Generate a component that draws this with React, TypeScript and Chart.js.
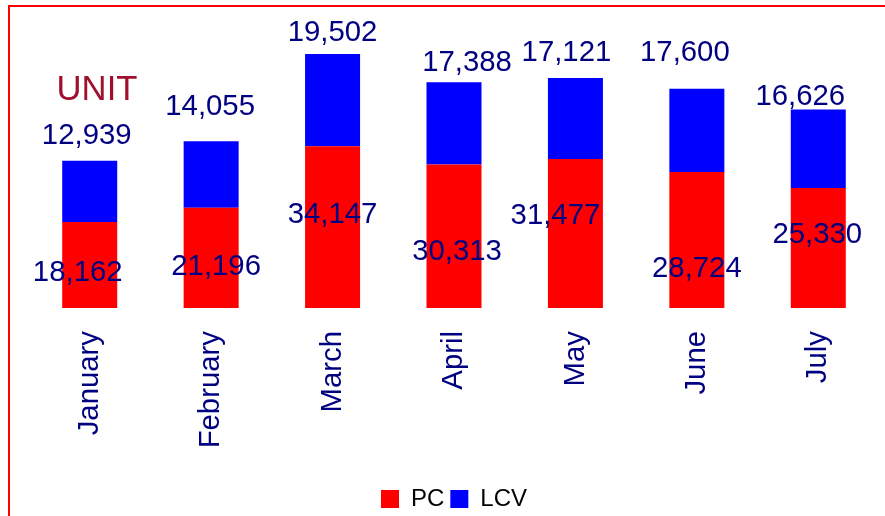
import React, { useEffect, useRef } from "react";
import { Chart, registerables } from "chart.js";

Chart.register(...registerables);

const months = ["January", "February", "March", "April", "May", "June", "July"];
const pcUnits = [18162, 21196, 34147, 30313, 31477, 28724, 25330];
const lcvUnits = [12939, 14055, 19502, 17388, 17121, 17600, 16626];
const unitLabel = "UNIT";
const seriesNames = ["PC", "LCV"];

// small label nudges (px) relative to the bar-anchored default placement
const pcLabelShift = [[-12, 8], [5, 9], [0, -12], [3, 16], [-20, -18], [0, 29], [-1, -13]];
const lcvLabelShift = [[-3, 0], [-1, -9], [0, 3.5], [13, 6], [-9, 0], [-12, -10.5], [-18, 13]];

const FONT = "'Liberation Sans', Arial, Helvetica, sans-serif";
const NAVY = "#000080";

const labelPlugin = {
  id: "valueLabels",
  afterDatasetsDraw(chart: any) {
    const ctx = chart.ctx;
    const fmt = new Intl.NumberFormat("en-US");
    ctx.save();
    ctx.font = `29.33px ${FONT}`;
    ctx.fillStyle = NAVY;
    ctx.textAlign = "center";
    ctx.textBaseline = "middle";
    const pcMeta = chart.getDatasetMeta(0);
    const lcvMeta = chart.getDatasetMeta(1);
    pcMeta.data.forEach((bar: any, i: number) => {
      const { x, y, base } = bar.getProps(["x", "y", "base"], true);
      const [dx, dy] = pcLabelShift[i];
      ctx.fillText(fmt.format(pcUnits[i]), x + dx, (y + base) / 2 + dy);
    });
    lcvMeta.data.forEach((bar: any, i: number) => {
      const { x, y } = bar.getProps(["x", "y"], true);
      const [dx, dy] = lcvLabelShift[i];
      ctx.fillText(fmt.format(lcvUnits[i]), x + dx, y - 25 + dy);
    });
    ctx.font = `34.67px ${FONT}`;
    ctx.fillStyle = "#A0102E";
    ctx.fillText(unitLabel, 97, 90.5);
    ctx.restore();
  },
};

export default function App() {
  const canvasRef = useRef<HTMLCanvasElement | null>(null);

  useEffect(() => {
    if (!canvasRef.current) return;
    Chart.defaults.font.family = FONT;
    const chart = new Chart(canvasRef.current, {
      type: "bar",
      data: {
        labels: months,
        datasets: [
          {
            label: seriesNames[0],
            data: pcUnits,
            backgroundColor: "#FF0000",
            barPercentage: 0.453,
            categoryPercentage: 1,
          },
          {
            label: seriesNames[1],
            data: lcvUnits,
            backgroundColor: "#0000FF",
            barPercentage: 0.453,
            categoryPercentage: 1,
          },
        ],
      },
      options: {
        animation: false,
        responsive: true,
        maintainAspectRatio: false,
        layout: { padding: { left: 29, right: 6, top: 24, bottom: -5 } },
        scales: {
          x: {
            stacked: true,
            grid: { display: false, drawTicks: false },
            border: { display: false },
            ticks: {
              color: NAVY,
              font: { size: 29.33 },
              minRotation: 90,
              maxRotation: 90,
              padding: 23,
              autoSkip: false,
            },
            afterFit: (s: any) => {
              s.height = 173;
            },
          },
          y: { stacked: true, display: false, min: 0, max: 60000 },
        },
        plugins: {
          legend: {
            position: "bottom",
            labels: {
              boxWidth: 18,
              boxHeight: 18,
              padding: 6,
              color: "#000000",
              font: { size: 24 },
            },
          },
          tooltip: { enabled: false },
          title: { display: false },
        },
      },
      plugins: [labelPlugin],
    });
    return () => chart.destroy();
  }, []);

  return (
    <>
      <div
        style={{
          position: "fixed",
          left: 8,
          top: 5,
          right: 0,
          bottom: 0,
          borderTop: "2px solid #FF0000",
          borderLeft: "2px solid #FF0000",
          boxSizing: "border-box",
        }}
      />
      <div style={{ position: "fixed", left: 0, top: 0, width: 885, height: 516 }}>
        <canvas ref={canvasRef} />
      </div>
    </>
  );
}
